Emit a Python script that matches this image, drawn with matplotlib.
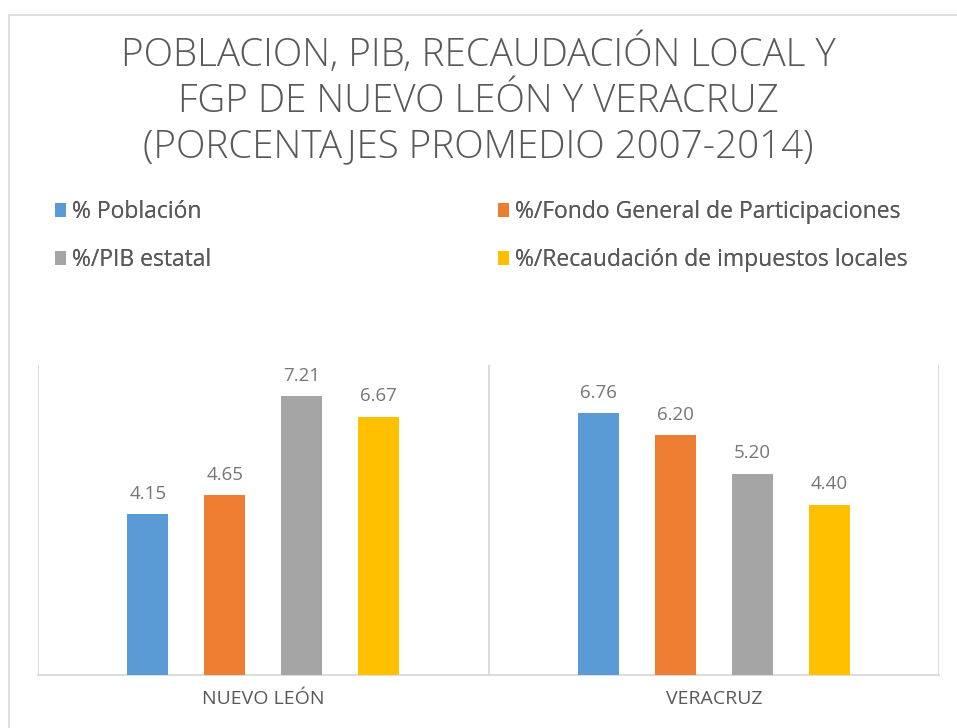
import matplotlib.pyplot as plt
import numpy as np
from matplotlib.patches import Rectangle

# Data
estados = ['NUEVO LEÓN', 'VERACRUZ']
series = ['% Población', '%/Fondo General de Participaciones',
          '%/PIB estatal', '%/Recaudación de impuestos locales']
poblacion = [4.15, 6.76]
fgp = [4.65, 6.20]
pib = [7.21, 5.20]
recaudacion = [6.67, 4.40]

colores = ['#5b9bd5', '#ed7d31', '#a5a5a5', '#ffc000']
titulo = 'POBLACION, PIB, RECAUDACIÓN LOCAL Y\nFGP DE NUEVO LEÓN Y VERACRUZ\n(PORCENTAJES PROMEDIO 2007-2014)'

plt.rcParams['font.family'] = ['Open Sans', 'DejaVu Sans']

W, H = 957, 728
fig = plt.figure(figsize=(W / 100, H / 100), dpi=100)

# light frame of the chart area (top and left visible)
fig.patches.append(Rectangle((9 / W, -0.1), 1.2, 1 - 15 / H + 0.1,
                             transform=fig.transFigure, fill=False,
                             edgecolor='#d9d9d9', linewidth=1.2))

ax = fig.add_axes([38 / W, 1 - 675 / H, 901 / W, 310 / H])

x = np.arange(len(estados))
ancho = 0.091
paso = 0.171
valores = [poblacion, fgp, pib, recaudacion]
barras = []
for i, vals in enumerate(valores):
    b = ax.bar(x + (i - 1.5) * paso, vals, width=ancho, color=colores[i],
               label=series[i], zorder=3)
    barras.append(b)
    for xi, v in zip(x + (i - 1.5) * paso, vals):
        ax.annotate(f'{v:.2f}', (xi, v), xytext=(0, 8), textcoords='offset points',
                    ha='center', va='bottom', fontsize=13.5, color='#767676')

ax.set_xlim(-0.5, 1.5)
ax.set_ylim(0, 8)
for xv in [-0.5, 0.5, 1.5]:
    ax.axvline(xv, color='#d9d9d9', linewidth=1.3, zorder=1)
for s in ['top', 'left', 'right']:
    ax.spines[s].set_visible(False)
ax.spines['bottom'].set_color('#d9d9d9')
ax.spines['bottom'].set_linewidth(1.3)
ax.set_yticks([])
ax.set_xticks(x)
ax.set_xticklabels(estados, fontsize=14, color='#595959')
ax.tick_params(axis='x', length=0, pad=11)

fig.text(0.5, 1 - 100 / H, titulo, ha='center', va='center', fontsize=27.8,
         color='#595959', linespacing=1.24, fontweight='light')

# two legend columns, Excel style
kw = dict(frameon=False, fontsize=16.5, handlelength=0.5, handleheight=0.55,
          handletextpad=0.25, labelspacing=1.05, borderpad=0, borderaxespad=0)
for cols, xpos in [([0, 2], 55), ([1, 3], 498)]:
    leg = fig.legend([barras[c] for c in cols], [series[c] for c in cols],
                     loc='upper left', bbox_to_anchor=(xpos / W, 1 - 200 / H), **kw)
    for t in leg.get_texts():
        t.set_color('#595959')
    fig.add_artist(leg)

fig.savefig('out.png', dpi=100)
